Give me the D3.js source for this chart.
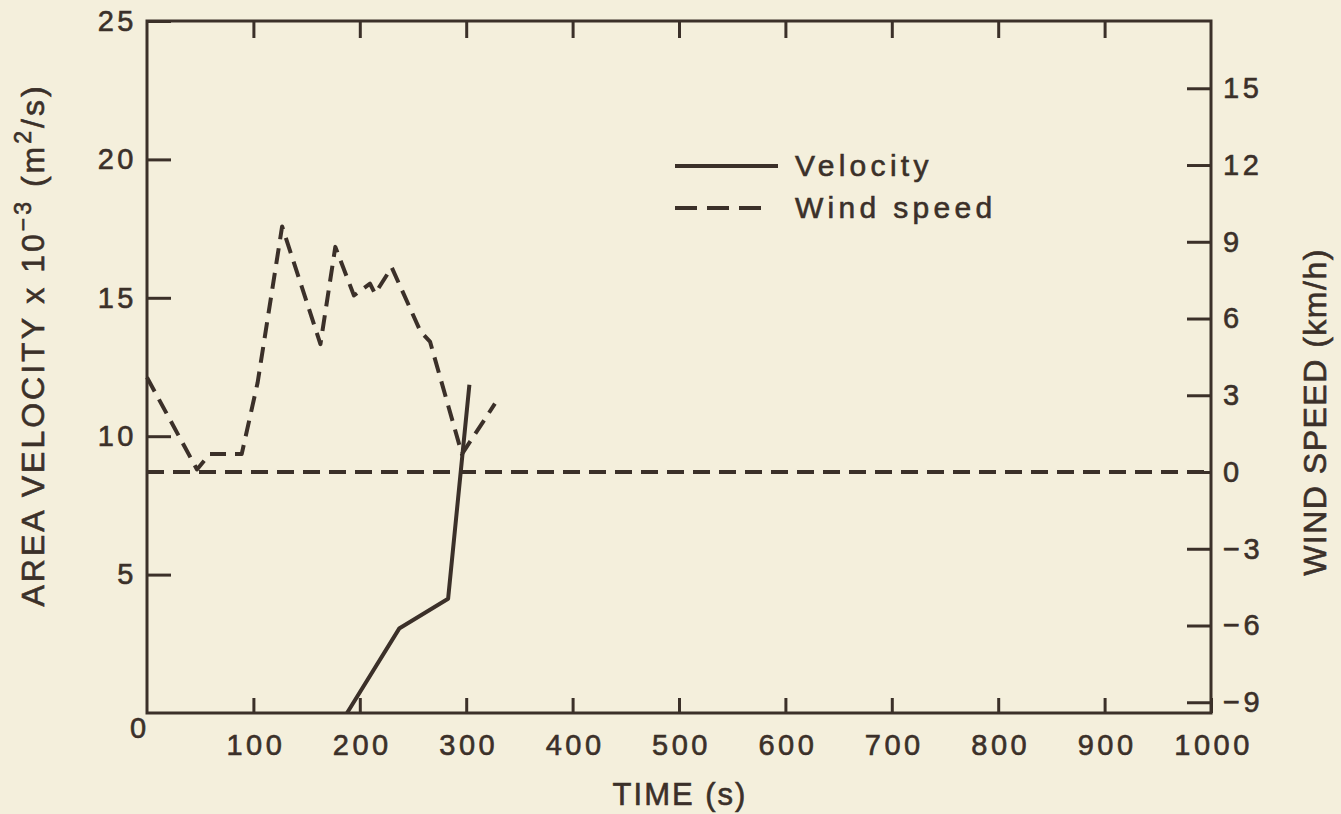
<!DOCTYPE html>
<html><head><meta charset="utf-8">
<script src="https://cdn.jsdelivr.net/npm/d3@7"></script>
<style>
body{margin:0;background:#f4efdc;}
svg{display:block;}
text{font-family:"Liberation Sans",Arial,Helvetica,sans-serif;fill:#3b3029;stroke:#3b3029;stroke-width:0.6px;}
</style></head>
<body><svg id="c" width="1341" height="814"></svg>
<script>
// ---- data ----
const timeTicks = [100,200,300,400,500,600,700,800,900,1000];
const velTicks = [5,10,15,20,25];
const velZeroLabel = 0;
const windTicks = [-9,-6,-3,0,3,6,9,12,15];
const windTime  = [0,47,59,89,104,127,163,177,194.5,209.6,214.3,230,257,266,296,327];
const windSpeed = [3.7,0.1,0.7,0.7,3.5,9.6,5.0,8.8,6.9,7.36,6.97,8.0,5.5,5.1,0.7,2.67];
const velTime  = [188,237,283,303];
const velValue = [0,3.05,4.13,11.86];
const windZero = [0,1000];
const legendLabels = ["Velocity","Wind speed"];

const ink = "#3b3029";
const svg = d3.select("#c");
const x = d3.scaleLinear([0,1000],[147,1211]);
const yL = d3.scaleLinear([0,25],[713,21]);
const yR = d3.scaleLinear([-9.42,17.63],[713,21]);

function styleAxis(g){
  g.select(".domain").remove();
  g.selectAll(".tick line").attr("stroke",ink).attr("stroke-width",3);
  g.selectAll(".tick text").attr("fill",ink).style("font-size","29px").style("letter-spacing","3.5px");
}
// bottom
svg.append("g").attr("transform","translate(0,713)")
  .call(d3.axisBottom(x).tickValues(timeTicks).tickSize(-15).tickPadding(21).tickFormat(d3.format("d")))
  .call(styleAxis)
  .selectAll(".tick text").attr("dx","2px");
// top
svg.append("g").attr("transform","translate(0,21)")
  .call(d3.axisTop(x).tickValues(timeTicks.slice(0,-1)).tickSize(-17).tickFormat(""))
  .call(styleAxis);
// left
svg.append("g").attr("transform","translate(147,0)")
  .call(d3.axisLeft(yL).tickValues(velTicks).tickSize(-24).tickPadding(10))
  .call(styleAxis);
// left zero label (sits below the corner)
svg.append("text").attr("x",x(0)-9).attr("y",yL(velZeroLabel)+25).attr("text-anchor","middle")
  .style("font-size","29px").text(velZeroLabel);
// right
svg.append("g").attr("transform","translate(1211,0)")
  .call(d3.axisRight(yR).tickValues(windTicks).tickSize(-24).tickPadding(12)
    .tickFormat(d=> d<0 ? "\u2212"+Math.abs(d) : d))
  .call(styleAxis);

// frame
svg.append("rect").attr("x",x(0)).attr("y",yL(25)).attr("width",x(1000)-x(0)).attr("height",yL(0)-yL(25))
  .attr("fill","none").attr("stroke",ink).attr("stroke-width",3);

// zero wind line
svg.append("line").attr("x1",x(windZero[0])).attr("x2",x(windZero[1]))
  .attr("y1",yR(0)).attr("y2",yR(0))
  .attr("stroke",ink).attr("stroke-width",4).attr("stroke-dasharray","17,9");

// wind series
const windData = windTime.map((t,i)=>[t,windSpeed[i]]);
svg.append("path").datum(windData)
  .attr("d",d3.line().x(d=>x(d[0])).y(d=>yR(d[1])))
  .attr("fill","none").attr("stroke",ink).attr("stroke-width",4)
  .attr("stroke-dasharray","16,9").attr("stroke-linejoin","round");

// velocity series
const velData = velTime.map((t,i)=>[t,velValue[i]]);
svg.append("path").datum(velData)
  .attr("d",d3.line().x(d=>x(d[0])).y(d=>yL(d[1])))
  .attr("fill","none").attr("stroke",ink).attr("stroke-width",4).attr("stroke-linejoin","round");

// legend
const lg = svg.append("g");
lg.append("line").attr("x1",675).attr("x2",778).attr("y1",166).attr("y2",166)
  .attr("stroke",ink).attr("stroke-width",4);
lg.append("line").attr("x1",675).attr("x2",768).attr("y1",208).attr("y2",208)
  .attr("stroke",ink).attr("stroke-width",4).attr("stroke-dasharray","22,10");
lg.selectAll("text.lab").data(legendLabels).enter().append("text")
  .attr("x",795).attr("y",(d,i)=>176+i*42)
  .style("font-size","30px").style("letter-spacing","4.3px").text(d=>d);

// axis titles
svg.append("text").attr("x",680).attr("y",805).attr("text-anchor","middle")
  .style("font-size","31px").style("letter-spacing","2px").text("TIME (s)");

const lt = svg.append("text").attr("transform","translate(44,345) rotate(-90)")
  .attr("text-anchor","middle").style("font-size","32px").style("letter-spacing","3px");
lt.append("tspan").text("AREA VELOCITY x 10");
lt.append("tspan").attr("dy",-13).style("font-size","23px").text("\u22123");
lt.append("tspan").attr("dy",13).text(" (m");
lt.append("tspan").attr("dy",-13).style("font-size","23px").text("2");
lt.append("tspan").attr("dy",13).text("/s)");

svg.append("text").attr("transform","translate(1326,412) rotate(-90)")
  .attr("text-anchor","middle").style("font-size","32px").style("letter-spacing","1.5px")
  .text("WIND SPEED (km/h)");
</script>
</body></html>
